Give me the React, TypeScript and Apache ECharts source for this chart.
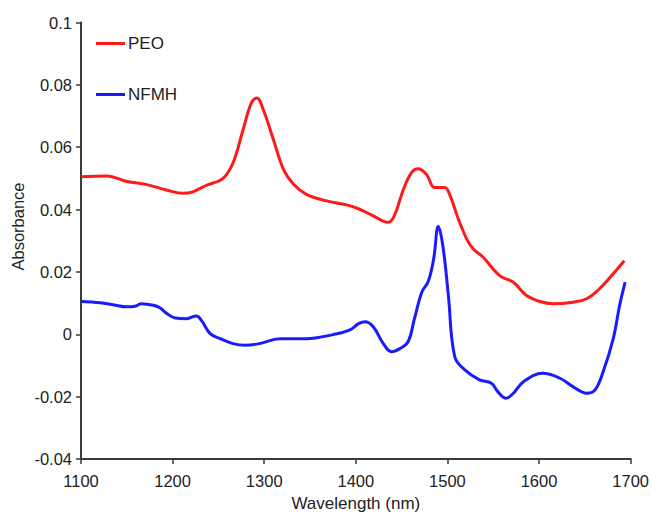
import React, { useEffect, useRef } from "react";
import * as echarts from "echarts";

const peoWavelength = [1100, 1128, 1150, 1172, 1193, 1212, 1222, 1237, 1255, 1266, 1277, 1286, 1292, 1299, 1310, 1321, 1332, 1346, 1368, 1390, 1404, 1419, 1435, 1442, 1452, 1461, 1468, 1477, 1486, 1497, 1503, 1512, 1521, 1528, 1539, 1557, 1572, 1586, 1601, 1615, 1637, 1652, 1666, 1681, 1693];
const peoAbsorbance = [0.0505, 0.0508, 0.049, 0.048, 0.0463, 0.0452, 0.0457, 0.0478, 0.050, 0.055, 0.0657, 0.0742, 0.0758, 0.072, 0.0625, 0.0529, 0.0481, 0.0449, 0.0428, 0.0415, 0.0401, 0.038, 0.0359, 0.038, 0.0465, 0.0519, 0.0531, 0.0513, 0.0471, 0.0471, 0.0444, 0.0369, 0.0306, 0.0274, 0.0247, 0.0188, 0.0167, 0.0125, 0.0105, 0.0098, 0.0103, 0.0114, 0.0146, 0.0194, 0.0236];

const nfmhWavelength = [1100, 1121, 1135, 1150, 1159, 1166, 1179, 1186, 1194, 1203, 1215, 1226, 1232, 1241, 1252, 1266, 1279, 1295, 1317, 1346, 1375, 1393, 1403, 1410, 1419, 1430, 1439, 1448, 1457, 1464, 1472, 1479, 1485, 1490, 1495, 1501, 1508, 1519, 1535, 1548, 1555, 1564, 1572, 1583, 1604, 1623, 1637, 1652, 1661, 1670, 1681, 1688, 1694];
const nfmhAbsorbance = [0.0105, 0.0101, 0.0095, 0.0088, 0.009, 0.0098, 0.0093, 0.0085, 0.0066, 0.0052, 0.005, 0.0059, 0.0042, 0.0002, -0.0014, -0.003, -0.0035, -0.003, -0.0014, -0.0014, -0.0001, 0.0013, 0.0034, 0.004, 0.0024, -0.003, -0.0056, -0.0046, -0.0024, 0.005, 0.0135, 0.0169, 0.0242, 0.0346, 0.0284, 0.0125, -0.0072, -0.0114, -0.0146, -0.0157, -0.0184, -0.0205, -0.0189, -0.0152, -0.0125, -0.0141, -0.0168, -0.0189, -0.0179, -0.012, -0.0014, 0.0093, 0.0167];

const xTicks = [1100, 1200, 1300, 1400, 1500, 1600, 1700];
const yTicks = [-0.04, -0.02, 0, 0.02, 0.04, 0.06, 0.08, 0.1];

const FONT = "Liberation Sans, Arial, sans-serif";

export default function App() {
  const ref = useRef<HTMLDivElement>(null);
  useEffect(() => {
    if (!ref.current) return;
    const chart = echarts.init(ref.current, undefined, { renderer: "svg" });
    const axisColor = "#3a3a3a";
    chart.setOption({
      animation: false,
      backgroundColor: "#ffffff",
      grid: { left: 81, right: 21, top: 22.5, bottom: 56, containLabel: false },
      legend: {
        orient: "vertical",
        left: 91,
        top: 30,
        itemGap: 34,
        icon: "rect",
        itemWidth: 29,
        itemHeight: 3,
        textStyle: { fontFamily: FONT, fontSize: 17, color: "#222", padding: [0, 0, 0, -2] },
        data: ["PEO", "NFMH"],
      },
      graphic: [
        {
          type: "text",
          x: 18,
          y: 226.5,
          rotation: Math.PI / 2,
          style: {
            text: "Absorbance",
            fontFamily: FONT,
            fontSize: 16.5,
            fill: "#222",
            align: "center",
            verticalAlign: "middle",
          },
        },
      ],
      xAxis: {
        type: "value",
        min: xTicks[0],
        max: xTicks[xTicks.length - 1],
        interval: 100,
        name: "Wavelength (nm)",
        nameLocation: "middle",
        nameGap: 36,
        nameTextStyle: { fontFamily: FONT, fontSize: 17, color: "#222" },
        axisLine: { show: true, onZero: false, lineStyle: { color: axisColor, width: 2 } },
        axisTick: { show: true, length: 5, lineStyle: { color: axisColor, width: 1.5 } },
        axisLabel: { fontFamily: FONT, fontSize: 16.5, color: "#222", margin: 13, formatter: (v: number) => String(v) },
        splitLine: { show: false },
      },
      yAxis: {
        type: "value",
        min: yTicks[0],
        max: yTicks[yTicks.length - 1],
        interval: 0.02,
        axisLine: { show: true, onZero: false, lineStyle: { color: axisColor, width: 2 } },
        axisTick: { show: true, length: 5, lineStyle: { color: axisColor, width: 1.5 } },
        axisLabel: {
          fontFamily: FONT,
          fontSize: 16.5,
          color: "#222",
          margin: 9,
          formatter: (v: number) => String(parseFloat(v.toFixed(2))),
        },
        splitLine: { show: false },
      },
      series: [
        {
          name: "PEO",
          type: "line",
          smooth: 0.4,
          showSymbol: false,
          color: "#ff1a1a",
          lineStyle: { width: 3, color: "#ff1a1a" },
          data: peoWavelength.map((w, i) => [w, peoAbsorbance[i]]),
        },
        {
          name: "NFMH",
          type: "line",
          smooth: 0.4,
          showSymbol: false,
          color: "#1a1aff",
          lineStyle: { width: 3, color: "#1a1aff" },
          data: nfmhWavelength.map((w, i) => [w, nfmhAbsorbance[i]]),
        },
      ],
    });
    return () => chart.dispose();
  }, []);
  return <div ref={ref} style={{ position: "absolute", left: 0, top: 0, width: 652, height: 517 }} />;
}
